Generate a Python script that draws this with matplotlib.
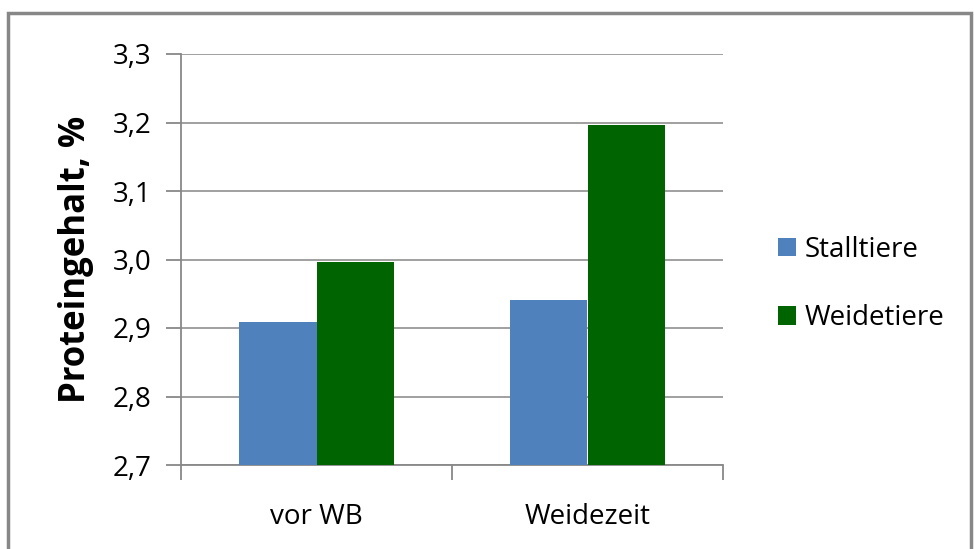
import numpy as np
import matplotlib.pyplot as plt
from matplotlib.patches import Rectangle
from matplotlib.ticker import FuncFormatter, FixedLocator

categories = ['vor WB', 'Weidezeit']
stalltiere = [2.909, 2.941]
weidetiere = [2.996, 3.196]
series_labels = ['Stalltiere', 'Weidetiere']
colors = ['#4F81BD', '#006400']

plt.rcParams['font.family'] = ['Open Sans', 'DejaVu Sans']

fig = plt.figure(figsize=(9.74, 5.49), dpi=100)
fig.patches.append(Rectangle((8 / 974, -0.01), 963 / 974, 1 - 13 / 549 + 0.01,
                             transform=fig.transFigure, fill=False,
                             edgecolor='#878787', linewidth=2.5))

ax = fig.add_axes([181 / 974, 1 - 465 / 549, 542 / 974, 411 / 549])

x = np.arange(len(categories))
width = 0.286
ax.bar(x - width / 2, np.array(stalltiere) - 2.7, width, bottom=2.7, color=colors[0],
       label=series_labels[0], zorder=3)
ax.bar(x + width / 2, np.array(weidetiere) - 2.7, width, bottom=2.7, color=colors[1],
       label=series_labels[1], zorder=3)

ax.set_xlim(-0.5, 1.5)
ax.set_ylim(2.7, 3.3)
ax.set_yticks(np.arange(2.7, 3.31, 0.1))
ax.yaxis.set_major_formatter(FuncFormatter(lambda v, p: f'{v:.1f}'.replace('.', ',')))
ax.grid(axis='y', color='#999999', linewidth=1.3, zorder=0)

# x ticks at category boundaries, labels centered
ax.set_xticks([-0.5, 0.5, 1.5])
ax.set_xticklabels([])
ax.xaxis.set_minor_locator(FixedLocator(x))
ax.set_xticklabels(categories, minor=True)
ax.tick_params(axis='x', which='minor', length=0, labelsize=20, pad=27)
ax.tick_params(axis='x', which='major', length=11, color='#888888', width=1.3)
ax.tick_params(axis='y', length=11, color='#888888', width=1.3, labelsize=20, pad=10)

for side in ['top', 'right']:
    ax.spines[side].set_visible(False)
for side in ['left', 'bottom']:
    ax.spines[side].set_color('#888888')
    ax.spines[side].set_linewidth(1.3)

ax.set_ylabel('Proteingehalt, %', fontsize=25, fontweight='bold', labelpad=14)

fig.legend(loc='center left', bbox_to_anchor=(753 / 974, 1 - 284 / 549), frameon=False,
           fontsize=20, handlelength=0.65, handleheight=0.65, handletextpad=0.3,
           labelspacing=1.45)

fig.savefig('out.png', dpi=100)
